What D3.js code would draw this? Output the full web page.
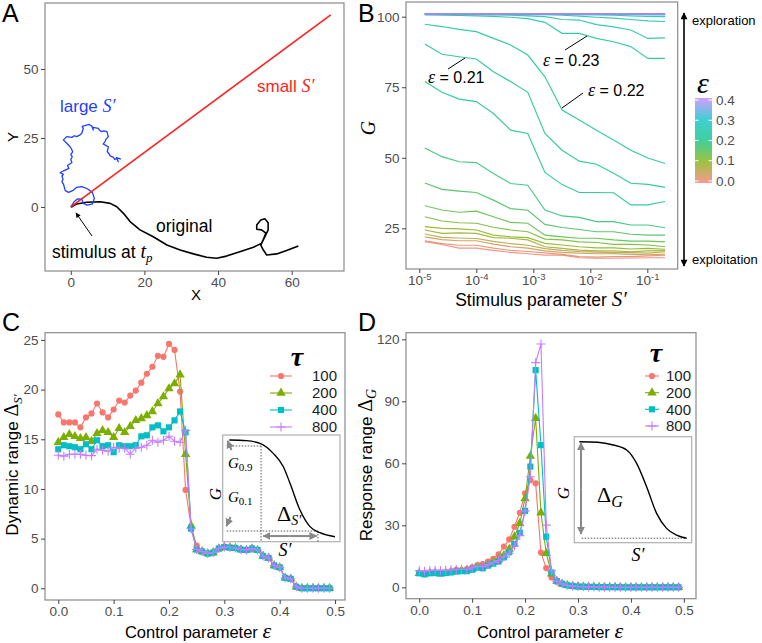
<!DOCTYPE html>
<html><head><meta charset="utf-8">
<script src="https://cdn.jsdelivr.net/npm/d3@7"></script>
<style>body{margin:0;background:#fff}svg{display:block}</style>
</head><body><script>
// ---------------- DATA ----------------
// Panel A trajectories (X, Y)
const smallS = [[0,0],[70.6,69.6]];
const original = [[0,0],[0.3,0.1],[1.6,1.1],[4.3,1.7],[8.0,1.9],[10.7,1.3],[12.5,0.1],[14.3,-2.3],[16.1,-5.3],[18.8,-8.3],[22.4,-10.8],[26.1,-13.8],[29.7,-15.6],[33.3,-17.0],[36.9,-18.2],[39.6,-18.6],[42.3,-17.8],[45.9,-16.2],[49.6,-14.6],[51.8,-13.2],[52.7,-10.8],[53.6,-8.3],[53.6,-5.7],[52.7,-4.3],[51.6,-4.7],[50.5,-6.5],[50.5,-8.1],[51.8,-8.3],[53.0,-9.5],[52.3,-11.7],[51.6,-13.8],[52.3,-15.6],[53.2,-17.4],[55.9,-17.0],[58.6,-15.8],[61.8,-14.1]];
const largeS = [[0,0],[0.9,1.9],[1.8,2.9],[3.0,2.8],[3.4,1.3],[4.5,0.7],[5.9,1.1],[6.4,3.1],[5.9,5.2],[4.5,6.6],[3.0,7.4],[1.6,7.1],[0.5,5.9],[-0.6,5.3],[-1.5,5.9],[-1.8,7.4],[-2.0,8.3],[-2.4,9.2],[-2.1,10.0],[-2.4,11.2],[-2.0,11.8],[-2.9,12.4],[-1.8,13.2],[-0.5,14.0],[-0.9,15.0],[0.3,16.1],[0.0,17.2],[0.4,18.2],[0.0,19.0],[0.5,20.0],[0.2,21.0],[-0.2,21.8],[-1.1,23.1],[-1.5,23.6],[-2.0,24.3],[-1.1,25.5],[0.3,25.2],[1.0,25.8],[1.6,25.5],[2.4,26.0],[3.0,26.7],[3.4,28.5],[3.1,29.2],[4.5,29.7],[5.0,29.9],[5.7,29.3],[6.1,27.9],[6.0,28.8],[7.5,28.5],[7.8,27.8],[8.4,27.3],[9.0,27.6],[9.8,27.3],[10.2,25.5],[9.6,24.6],[9.3,23.7],[8.8,22.8],[9.5,22.3],[10.2,21.8],[9.9,20.0],[10.4,19.3],[10.7,18.5],[11.6,18.0],[11.9,17.2],[12.5,17.6],[12.9,16.4],[12.4,17.9],[13.6,17.3]];
const ticksAX = [0,20,40,60], ticksAY = [0,25,50];

// Panel B: G vs S' for several epsilon
const sValues = [1.25e-5,2.5e-5,5e-5,1e-4,2e-4,4e-4,8e-4,1.6e-3,3.2e-3,6.4e-3,1.28e-2,2.56e-2,5.12e-2,0.1024,0.2048];
const epsB = [0,0.02,0.04,0.06,0.08,0.10,0.12,0.14,0.16,0.18,0.20,0.21,0.22,0.23,0.24,0.25,0.26,0.28,0.30,0.32,0.34,0.36,0.38,0.40];
const gB = [
 [20.3,19.3,18.0,18.0,17.2,16.5,16.0,15.5,15.5,14.6,14.4,14.4,14.5,14.6,14.6],
 [20.6,19.6,19.0,19.0,18.0,17.2,16.8,16.3,15.8,15.0,14.8,15.0,15.0,15.2,15.5],
 [22.0,21.0,20.6,20.6,19.4,18.5,18.0,17.0,16.5,16.2,16.0,16.0,15.8,15.6,15.9],
 [23.0,21.8,21.6,21.4,20.4,19.6,19.0,17.8,17.2,16.8,16.6,16.4,16.4,16.2,16.7],
 [24.4,23.2,23.4,23.2,21.7,21.5,20.9,18.5,17.9,17.3,17.0,17.0,16.7,17.0,17.1],
 [25.6,25.0,24.8,24.4,22.6,22.0,21.7,19.7,19.1,18.5,18.1,18.1,17.7,17.9,17.6],
 [29.1,27.6,27.0,26.8,25.4,24.4,23.8,21.2,20.9,20.2,20.0,19.3,19.3,19.1,18.5],
 [33.0,31.5,30.7,31.1,29.1,27.1,26.8,22.6,22.0,21.5,21.5,20.9,20.5,20.5,20.2],
 [41.1,38.8,38.2,37.7,35.0,32.0,31.4,26.4,25.3,24.6,23.8,23.8,22.9,22.6,22.6],
 [53.5,50.4,48.6,48.3,44.4,40.9,40.3,31.5,29.4,28.9,27.4,27.4,26.2,26.2,25.2],
 [77.0,73.2,70.8,69.9,65.7,59.8,58.6,44.8,40.5,37.7,37.7,37.6,33.3,33.3,34.5],
 [90.3,86.7,85.8,85.0,80.5,77.0,73.2,58.6,52.7,48.8,47.7,44.5,41.0,40.6,39.5],
 [97.3,96.5,95.5,94.7,92.3,90.0,86.4,78.7,66.9,63.4,59.8,56.3,52.7,49.9,48.0],
 [100.6,100.5,100.4,100.3,100.1,99.8,99.3,98.0,94.1,94.1,92.3,91.1,89.4,85.2,85.2],
 [100.8,100.8,100.7,100.7,100.6,100.5,100.3,100.0,99.0,98.8,97.2,96.4,95.3,92.3,92.5],
 [100.9,100.9,100.9,100.8,100.8,100.8,100.7,100.7,100.5,100.2,99.8,99.5,99.0,98.5,98.3],
 [101.0,101.0,101.0,100.9,100.9,100.9,100.9,100.9,100.8,100.7,100.6,100.5,100.3,100.1,100.0],
 [101.0,101.0,101.0,101.0,101.0,101.0,101.0,101.0,100.9,100.9,100.9,100.8,100.8,100.7,100.6],
 [101.0,101.0,101.0,101.0,101.0,101.0,101.0,101.0,101.0,101.0,101.0,101.0,100.9,100.9,100.9],
 [101.0,101.0,101.0,101.0,101.0,101.0,101.0,101.0,101.0,101.0,101.0,101.0,101.0,101.0,101.0],
 [101.0,101.0,101.0,101.0,101.0,101.0,101.0,101.0,101.0,101.0,101.0,101.0,101.0,101.0,101.0],
 [101.0,101.0,101.0,101.0,101.0,101.0,101.0,101.0,101.0,101.0,101.0,101.0,101.0,101.0,101.0],
 [101.0,101.0,101.0,101.0,101.0,101.0,101.0,101.0,101.0,101.0,101.0,101.0,101.0,101.0,101.0],
 [101.0,101.0,101.0,101.0,101.0,101.0,101.0,101.0,101.0,101.0,101.0,101.0,101.0,101.0,101.0]
];
const ticksBX = [1e-5,1e-4,1e-3,1e-2,1e-1], ticksBY = [25,50,75,100];
const epsBreaks = [0,0.1,0.2,0.3,0.4];
const epsColors = ["#F8766D","#7CAE00","#00BF7D","#00BFC4","#C77CFF"];

// Panels C & D
const epsCD = [0,0.01,0.02,0.03,0.04,0.05,0.06,0.07,0.08,0.09,0.10,0.11,0.12,0.13,0.14,0.15,0.16,0.17,0.18,0.19,0.20,0.21,0.22,0.23,0.24,0.25,0.26,0.27,0.28,0.29,0.30,0.31,0.32,0.33,0.34,0.35,0.36,0.37,0.38,0.39,0.40,0.41,0.42,0.43,0.44,0.45,0.46,0.47,0.48,0.49];
const tauLabels = ["100","200","400","800"];
const tauColors = ["#F8766D","#7CAE00","#00BFC4","#C77CFF"];
const dynRange100 = [17.5,16.7,16.7,16.7,16.2,17.2,17.6,18.6,17.7,17.2,18.0,18.9,18.7,19.4,19.9,20.7,21.6,22.3,23.4,23.3,24.6,24.0,19.8,9.9,6.2,4.3,3.7,3.5,3.6,4.0,4.15,4.1,4.05,3.9,3.85,4.0,3.85,3.25,3.05,2.3,2.1,1.05,0.95,0.15,0,0,0,0,0,0];
const dynRange200 = [14.7,15.2,15.5,15.3,15.1,15.2,14.8,15.6,15.9,15.7,15.2,16.1,15.7,16.3,16.9,17.1,17.4,17.8,18.6,19.3,20.1,20.6,21.5,13.5,6.3,3.9,3.7,3.5,3.6,4.0,4.15,4.1,4.05,3.9,3.85,4.0,3.85,3.25,3.05,2.3,2.1,1.05,0.95,0.15,0,0,0,0,0,0];
const dynRange400 = [14.0,14.4,14.3,14.2,14.0,14.5,14.0,14.9,14.3,14.4,13.7,14.4,14.3,14.3,14.4,15.3,15.4,16.2,16.4,15.8,16.2,16.9,17.8,15.7,6.0,3.9,3.7,3.5,3.6,4.0,4.15,4.1,4.05,3.9,3.85,4.0,3.85,3.25,3.05,2.3,2.1,1.05,0.95,0.15,0,0,0,0,0,0];
const dynRange800 = [13.4,13.3,13.5,13.5,13.5,13.4,13.35,14.0,13.9,13.8,14.2,14.1,14.1,13.5,14.1,14.2,14.4,14.9,14.7,14.9,15.3,14.8,14.7,15.9,6.0,3.9,3.7,3.5,3.6,4.0,4.15,4.1,4.05,3.9,3.85,4.0,3.85,3.25,3.05,2.3,2.1,1.05,0.95,0.15,0,0,0,0,0,0];
const respRange100 = [7.0,6.3,7.0,7.2,7.0,7.3,7.8,8.5,8.3,8.8,9.7,10.8,11.3,12.4,13.8,16.0,19.7,23.2,29.3,36.1,45.5,51.9,50.3,16.8,9.3,4.8,2.8,1.6,1.0,0.6,0.4,0.3,0.2,0.2,0.1,0.1,0.1,0.05,0.05,0,0,0,0,0,0,0,0,0,0,0];
const respRange200 = [6.8,6.5,6.8,6.8,6.6,7.0,7.4,7.8,8.0,8.3,8.8,9.8,10.0,11.0,12.2,13.5,15.5,18.5,24.5,31.0,43.0,63.5,81.8,36.1,16.5,6.5,3.0,1.7,1.0,0.6,0.4,0.3,0.2,0.2,0.1,0.1,0.1,0.05,0.05,0,0,0,0,0,0,0,0,0,0,0];
const respRange400 = [6.8,6.3,6.8,6.9,6.7,6.9,7.2,7.6,7.8,7.8,8.5,9.5,9.2,10.5,11.5,12.5,14.5,17.0,21.0,26.4,37.0,58.4,105.1,68.8,24.5,7.2,3.0,1.7,1.0,0.6,0.4,0.3,0.2,0.2,0.1,0.1,0.1,0.05,0.05,0,0,0,0,0,0,0,0,0,0,0];
const respRange800 = [8.0,7.8,8.2,8.3,8.2,8.3,8.5,8.6,8.7,8.6,9.5,10.3,10.0,11.0,12.0,13.0,14.8,16.5,20.0,25.0,37.0,53.5,108.7,117.7,30.1,8.0,3.0,1.7,1.0,0.6,0.4,0.3,0.2,0.2,0.1,0.1,0.1,0.05,0.05,0,0,0,0,0,0,0,0,0,0,0];
const ticksCDX = [0,0.1,0.2,0.3,0.4,0.5], ticksCY = [0,5,10,15,20,25], ticksDY = [0,30,60,90,120];
// schematic sigmoid curves for the insets (normalised box coordinates)
const insetCurveC = [[0.056,0.953],[0.2,0.947],[0.318,0.922],[0.431,0.828],[0.517,0.703],[0.574,0.547],[0.659,0.297],[0.744,0.141],[0.829,0.084],[0.957,0.047]];
const insetCurveD = [[0.043,0.953],[0.2,0.948],[0.332,0.922],[0.446,0.875],[0.531,0.749],[0.616,0.528],[0.701,0.277],[0.786,0.135],[0.871,0.072],[0.957,0.042]];

// ---------------- DRAWING ----------------
const sans='"Liberation Sans",Arial,Helvetica,sans-serif';
const serif='"Liberation Serif","Times New Roman",serif';
const svg=d3.select("body").append("svg").attr("width",762).attr("height",643);
svg.append("rect").attr("width",762).attr("height",643).attr("fill","#fff");
const defs=svg.append("defs");
function mk(id,color,w,h){
  defs.append("marker").attr("id",id).attr("viewBox","0 0 10 10").attr("refX",9).attr("refY",5)
   .attr("markerUnits","userSpaceOnUse").attr("markerWidth",w).attr("markerHeight",h)
   .attr("orient","auto-start-reverse").append("path").attr("d","M0,0L10,5L0,10z").attr("fill",color);
}
mk("ab","#000",8,7); mk("ag","#888",8,8); mk("as","#000",6,5);

function frame(x0,y0,x1,y1,c="#8a8a8a",w=1.2){
  svg.append("rect").attr("x",x0).attr("y",y0).attr("width",x1-x0).attr("height",y1-y0)
   .attr("fill","none").attr("stroke",c).attr("stroke-width",w);
}
function axis(orient,scale,pos,values,fmt,fs=13.5){
  const ax=(orient==="bottom"?d3.axisBottom(scale):d3.axisLeft(scale)).tickValues(values)
    .tickSize(4).tickSizeOuter(0).tickPadding(2.5).tickFormat(fmt);
  const g=svg.append("g").attr("transform",orient==="bottom"?`translate(0,${pos})`:`translate(${pos},0)`).call(ax);
  g.select(".domain").remove();
  g.selectAll(".tick line").attr("stroke","#444").attr("stroke-width",1);
  g.selectAll(".tick text").attr("fill","#4d4d4d").style("font-family",sans).style("font-size",fs+"px");
  return g;
}
function rich(x,y,parts,o={}){
  const t=svg.append("text").attr("x",x).attr("y",y).attr("fill",o.fill||"#000")
    .attr("text-anchor",o.anchor||"start").style("font-family",sans).style("font-size",(o.size||16)+"px");
  if(o.rotate) t.attr("transform",`rotate(${o.rotate},${x},${y})`);
  parts.forEach(p=>{
    const s=t.append("tspan").text(p.t);
    if(p.serif) s.style("font-family",serif);
    if(p.italic) s.style("font-style","italic");
    if(p.bold) s.style("font-weight","bold");
    if(p.size) s.style("font-size",p.size+"px");
    if(p.dy) s.attr("dy",p.dy);
    if(p.dx) s.attr("dx",p.dx);
  });
  return t;
}

// ---- Panel A ----
const xA=d3.scaleLinear().domain([-7,74.2]).range([45,344]);
const yA=d3.scaleLinear().domain([-23.2,73.9]).range([271,3]);
frame(45,3,344,271);
axis("bottom",xA,271,ticksAX,d3.format("d"));
axis("left",yA,45,ticksAY,d3.format("d"));
const lineA=d3.line().x(d=>xA(d[0])).y(d=>yA(d[1]));
svg.append("path").attr("d",lineA(original)).attr("fill","none").attr("stroke","#000").attr("stroke-width",1.6).attr("stroke-linejoin","round");
svg.append("path").attr("d",lineA(largeS)).attr("fill","none").attr("stroke","#1f3fff").attr("stroke-width",1.3).attr("stroke-linejoin","round");
svg.append("path").attr("d",lineA(smallS)).attr("fill","none").attr("stroke","#ff2020").attr("stroke-width",1.6);
rich(60,112,[{t:"large "},{t:"S′",serif:true,italic:true,size:18}],{fill:"#1f3fff",size:17});
rich(257,92,[{t:"small "},{t:"S′",serif:true,italic:true,size:18}],{fill:"#ff2020",size:17});
rich(156,232,[{t:"original"}],{size:17.5});
rich(52,258,[{t:"stimulus at "},{t:"t",serif:true,italic:true,size:20},{t:"p",serif:true,italic:true,size:13,dy:"4"}],{size:17.5});
svg.append("line").attr("x1",92).attr("y1",236).attr("x2",76).attr("y2",213).attr("stroke","#000").attr("stroke-width",1).attr("marker-end","url(#as)");
rich(196,300,[{t:"X"}],{anchor:"middle",size:15});
rich(18,137,[{t:"Y"}],{anchor:"middle",size:15,rotate:-90});
rich(2,22,[{t:"A"}],{size:25});

// ---- Panel B ----
const xB=d3.scaleLog().domain([Math.pow(10,-5.233),Math.pow(10,-0.467)]).range([406,677.7]);
const yB=d3.scaleLinear().domain([10.6,105.2]).range([269,2]);
const colB=d3.scaleLinear().domain(epsBreaks).range(epsColors).interpolate(d3.interpolateRgb);
const lineB=d3.line().x((d,i)=>xB(sValues[i])).y(d=>yB(d));
epsB.forEach((e,k)=>{
  svg.append("path").attr("d",lineB(gB[k])).attr("fill","none").attr("stroke",colB(e))
   .attr("stroke-opacity",0.8).attr("stroke-width",1.15);
});
frame(406,2,677.7,269);
const axBx=axis("bottom",xB,269,ticksBX,d=>"");
axBx.selectAll(".tick text").each(function(d){
  const t=d3.select(this);
  t.append("tspan").text("10");
  t.append("tspan").attr("dy","-0.55em").style("font-size","9.5px").text(Math.round(Math.log10(d)));
});
axis("left",yB,406,ticksBY,d3.format("d"));
// epsilon annotations
[[448,69,465,58],[583,93,562,108],[565,50,587,36]].forEach(s=>{
  svg.append("line").attr("x1",s[0]).attr("y1",s[1]).attr("x2",s[2]).attr("y2",s[3]).attr("stroke","#000").attr("stroke-width",1);
});
rich(428,83,[{t:"ε",serif:true,italic:true,size:18},{t:" = 0.21"}],{size:16});
rich(543,66,[{t:"ε",serif:true,italic:true,size:18},{t:" = 0.23"}],{size:16});
rich(588,96,[{t:"ε",serif:true,italic:true,size:18},{t:" = 0.22"}],{size:16});
// axis titles
rich(541,306,[{t:"Stimulus parameter  "},{t:"S′",serif:true,italic:true,size:21}],{anchor:"middle",size:17.5});
rich(375,128,[{t:"G",serif:true,italic:true}],{anchor:"middle",size:20,rotate:-90});
rich(358,22,[{t:"B"}],{size:25});
// exploration arrow
svg.append("line").attr("x1",684).attr("y1",100).attr("x2",684).attr("y2",13).attr("stroke","#000").attr("stroke-width",1.6).attr("marker-end","url(#ab)");
svg.append("line").attr("x1",684).attr("y1",100).attr("x2",684).attr("y2",266).attr("stroke","#000").attr("stroke-width",1.6).attr("marker-end","url(#ab)");
rich(692,25,[{t:"exploration"}],{size:13});
rich(692,264,[{t:"exploitation"}],{size:13});
// colorbar
const cbY=d3.scaleLinear().domain([0,0.4]).range([181,100]);
const grad=defs.append("linearGradient").attr("id","cb").attr("x1",0).attr("y1",1).attr("x2",0).attr("y2",0);
d3.range(0,0.4001,0.02).forEach(v=>grad.append("stop").attr("offset",v/0.4).attr("stop-color",colB(v)));
svg.append("rect").attr("x",695).attr("y",cbY(0.41)).attr("width",17).attr("height",cbY(-0.01)-cbY(0.41)).attr("fill","url(#cb)").attr("opacity",0.75);
epsBreaks.forEach(v=>{
  svg.append("line").attr("x1",695).attr("x2",698.5).attr("y1",cbY(v)).attr("y2",cbY(v)).attr("stroke","#fff");
  svg.append("line").attr("x1",708.5).attr("x2",712).attr("y1",cbY(v)).attr("y2",cbY(v)).attr("stroke","#fff");
  svg.append("text").attr("x",716).attr("y",cbY(v)).attr("dy","0.35em").attr("fill","#4d4d4d").style("font-family",sans).style("font-size","13.5px").text(d3.format(".1f")(v));
});
rich(703,93,[{t:"ε",serif:true,italic:true}],{anchor:"middle",size:30});

// ---- Panel C & D shared helpers ----
const symCircle=d3.symbol().type(d3.symbolCircle).size(30)();
const symTri=d3.symbol().type(d3.symbolTriangle).size(38)();
const symSq=d3.symbol().type(d3.symbolSquare).size(38)();
const symPlus="M-4.5,0H4.5M0,-4.5V4.5";
const syms=[symCircle,symTri,symSq,symPlus];
function drawSeries(x,y,series){
  series.forEach((vals,k)=>{
    const ln=d3.line().x((d,i)=>x(epsCD[i])).y(d=>y(d));
    svg.append("path").attr("d",ln(vals)).attr("fill","none").attr("stroke",tauColors[k]).attr("stroke-width",1.1);
    const g=svg.append("g");
    vals.forEach((v,i)=>{
      const p=g.append("path").attr("d",syms[k]).attr("transform",`translate(${x(epsCD[i])},${y(v)})`);
      if(k===3) p.attr("fill","none").attr("stroke",tauColors[k]).attr("stroke-width",1.1);
      else p.attr("fill",tauColors[k]);
    });
  });
}
function legend(tx,ty,kx0,kx1,txtx,ys){
  rich(tx,ty,[{t:"τ",serif:true,italic:true,bold:true}],{anchor:"middle",size:28});
  tauLabels.forEach((lab,k)=>{
    svg.append("line").attr("x1",kx0).attr("x2",kx1).attr("y1",ys[k]).attr("y2",ys[k]).attr("stroke",tauColors[k]).attr("stroke-width",1.1);
    const p=svg.append("path").attr("d",syms[k]).attr("transform",`translate(${(kx0+kx1)/2},${ys[k]})`);
    if(k===3) p.attr("fill","none").attr("stroke",tauColors[k]).attr("stroke-width",1.1); else p.attr("fill",tauColors[k]);
    svg.append("text").attr("x",txtx).attr("y",ys[k]).attr("dy","0.36em").style("font-family",sans).style("font-size","15px").attr("fill","#222").text(lab);
  });
}
function insetBox(x0,y0,x1,y1){
  svg.append("rect").attr("x",x0).attr("y",y0).attr("width",x1-x0).attr("height",y1-y0).attr("fill","#fff").attr("stroke","#b0b0b0").attr("stroke-width",1.2);
  return [d3.scaleLinear().domain([0,1]).range([x0,x1]), d3.scaleLinear().domain([0,1]).range([y1,y0])];
}

// ---- Panel C ----
const xC=d3.scaleLinear().domain([-0.024,0.518]).range([45,345]);
const yC=d3.scaleLinear().domain([-1.18,25.73]).range([600,332.7]);
frame(45,332.7,345,600);
axis("bottom",xC,600,ticksCDX,d3.format(".1f"));
axis("left",yC,45,ticksCY,d3.format("d"));
drawSeries(xC,yC,[dynRange100,dynRange200,dynRange400,dynRange800]);
legend(297,366,270,292,312,[376,393,410,427]);
{
  const [ix,iy]=insetBox(222.7,435,340,541.7);
  const dot=(a,b,c,d)=>svg.append("line").attr("x1",ix(a)).attr("y1",iy(b)).attr("x2",ix(c)).attr("y2",iy(d)).attr("stroke","#333").attr("stroke-width",0.8).attr("stroke-dasharray","1.5,1.5");
  dot(0.034,0.897,0.327,0.897); dot(0.327,0.897,0.327,0); dot(0.034,0.1,0.812,0.1); dot(0.812,0.1,0.812,0);
  svg.append("path").attr("d",d3.line().x(d=>ix(d[0])).y(d=>iy(d[1])).curve(d3.curveMonotoneX)(insetCurveC)).attr("fill","none").attr("stroke","#000").attr("stroke-width",1.4);
  svg.append("line").attr("x1",ix(0.57)).attr("y1",iy(0.053)).attr("x2",ix(0.346)).attr("y2",iy(0.053)).attr("stroke","#888").attr("stroke-width",2).attr("marker-end","url(#ag)");
  svg.append("line").attr("x1",ix(0.57)).attr("y1",iy(0.053)).attr("x2",ix(0.801)).attr("y2",iy(0.053)).attr("stroke","#888").attr("stroke-width",2).attr("marker-end","url(#ag)");
  svg.append("line").attr("x1",231.5).attr("y1",450).attr("x2",227.5).attr("y2",441).attr("stroke","#888").attr("stroke-width",2).attr("marker-end","url(#ag)");
  svg.append("line").attr("x1",230.5).attr("y1",517).attr("x2",226.5).attr("y2",526).attr("stroke","#888").attr("stroke-width",2).attr("marker-end","url(#ag)");
  rich(228,468,[{t:"G",serif:true,italic:true},{t:"0.9",serif:true,size:11,dy:"3"}],{size:15});
  rich(228,502,[{t:"G",serif:true,italic:true},{t:"0.1",serif:true,size:11,dy:"3"}],{size:15});
  rich(277,521,[{t:"Δ",serif:true},{t:"S′",serif:true,italic:true,size:14,dy:"4"}],{size:22});
  rich(285,556,[{t:"S′",serif:true,italic:true}],{anchor:"middle",size:18});
  rich(221,494,[{t:"G",serif:true,italic:true}],{anchor:"middle",size:17,rotate:-90});
}
rich(198,638,[{t:"Control parameter  "},{t:"ε",serif:true,italic:true,size:22}],{anchor:"middle",size:16.5});
rich(18,465,[{t:"Dynamic range  "},{t:"Δ",serif:true,size:20},{t:"S′",serif:true,italic:true,size:13,dy:"4"}],{anchor:"middle",size:17,rotate:-90});
rich(2,331,[{t:"C"}],{size:25});

// ---- Panel D ----
const xD=d3.scaleLinear().domain([-0.025,0.523]).range([406,696]);
const yD=d3.scaleLinear().domain([-5.5,123.2]).range([598.7,332.7]);
frame(406,332.7,696,598.7);
axis("bottom",xD,598.7,ticksCDX,d3.format(".1f"));
axis("left",yD,406,ticksDY,d3.format("d"));
drawSeries(xD,yD,[respRange100,respRange200,respRange400,respRange800]);
legend(656,362,645,659,666,[376,392.7,409.3,426]);
{
  const [ix,iy]=insetBox(574.3,436.7,691.7,542.7);
  svg.append("line").attr("x1",ix(0.063)).attr("y1",iy(0.042)).attr("x2",ix(0.957)).attr("y2",iy(0.042)).attr("stroke","#333").attr("stroke-width",0.8).attr("stroke-dasharray","1.5,1.5");
  svg.append("path").attr("d",d3.line().x(d=>ix(d[0])).y(d=>iy(d[1])).curve(d3.curveMonotoneX)(insetCurveD)).attr("fill","none").attr("stroke","#000").attr("stroke-width",1.4);
  svg.append("line").attr("x1",ix(0.057)).attr("y1",iy(0.5)).attr("x2",ix(0.057)).attr("y2",iy(0.943)).attr("stroke","#888").attr("stroke-width",2).attr("marker-end","url(#ag)");
  svg.append("line").attr("x1",ix(0.057)).attr("y1",iy(0.5)).attr("x2",ix(0.057)).attr("y2",iy(0.082)).attr("stroke","#888").attr("stroke-width",2).attr("marker-end","url(#ag)");
  rich(597,502,[{t:"Δ",serif:true},{t:"G",serif:true,italic:true,size:16,dy:"5"}],{size:22});
  rich(638,561,[{t:"S′",serif:true,italic:true}],{anchor:"middle",size:18});
  rich(569,493,[{t:"G",serif:true,italic:true}],{anchor:"middle",size:17,rotate:-90});
}
rich(550,638,[{t:"Control parameter  "},{t:"ε",serif:true,italic:true,size:22}],{anchor:"middle",size:16.5});
rich(372,465,[{t:"Response range  "},{t:"Δ",serif:true,size:20},{t:"G",serif:true,italic:true,size:14,dy:"4"}],{anchor:"middle",size:17,rotate:-90});
rich(358,331,[{t:"D"}],{size:25});
</script></body></html>
